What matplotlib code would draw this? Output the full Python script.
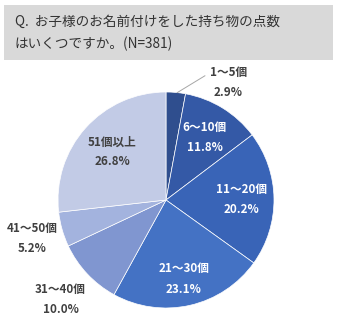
import numpy as np
import matplotlib
matplotlib.use("Agg")
from matplotlib import pyplot as plt
from matplotlib.patches import Rectangle

plt.rcParams['font.family'] = ['Noto Sans CJK JP', 'DejaVu Sans']

categories = ["1～5個", "6～10個", "11～20個", "21～30個", "31～40個", "41～50個", "51個以上"]
values = [2.9, 11.8, 20.2, 23.1, 10.0, 5.2, 26.8]
colors = ["#2f4e8e", "#3459a6", "#3964b7", "#4472c4", "#8096d0", "#a3b3de", "#c2cbe6"]
text_colors = ["#404040", "white", "white", "white", "#404040", "#404040", "#404040"]
label_radius = [1.23, 0.68, 0.70, 0.75, 1.34, 1.29, 0.67]
title = "Q.  お子様のお名前付けをした持ち物の点数\nはいくつですか。(N=381)"

W, H = 339, 325
fig = plt.figure(figsize=(W / 100, H / 100), dpi=100)

# title box
fig.patches.append(Rectangle((4 / W, 1 - 60 / H), 329 / W, 55 / H,
                             transform=fig.transFigure, facecolor="#d9d9d9",
                             edgecolor="none", zorder=0))
fig.text(15 / W, 1 - 33 / H, title, fontsize=9.8, color="#333333",
         va="center", ha="left", linespacing=1.7)

cx, cy, r = 166, 200, 108
ax = fig.add_axes([(cx - r) / W, (H - cy - r) / H, 2 * r / W, 2 * r / H])
wedges, _ = ax.pie(values, colors=colors, startangle=90, counterclock=False,
                   wedgeprops=dict(edgecolor="white", linewidth=0.5))
ax.set_xlim(-1, 1)
ax.set_ylim(-1, 1)
ax.axis("off")

cum = np.cumsum([0] + values)
total = sum(values)
for i, (cat, v) in enumerate(zip(categories, values)):
    mid = (cum[i] + v / 2) / total * 360
    if i == 0:
        mid = 28
    a = np.deg2rad(90 - mid)
    x, y = label_radius[i] * np.cos(a), label_radius[i] * np.sin(a)
    ax.text(x, y + 0.093, cat, ha="center", va="center", fontsize=8.4,
            color=text_colors[i], fontweight="bold", clip_on=False)
    ax.text(x, y - 0.093, f"{v:.1f}%", ha="center", va="center", fontsize=8.4,
            color=text_colors[i], fontweight="bold", clip_on=False)

# leader line for the small slice
a0 = np.deg2rad(90 - 6)
ax.plot([np.cos(a0) * 1.0, 0.36], [np.sin(a0) * 1.0, 1.15], color="#a6a6a6",
        lw=0.7, clip_on=False)

fig.savefig("out.png", dpi=100)
